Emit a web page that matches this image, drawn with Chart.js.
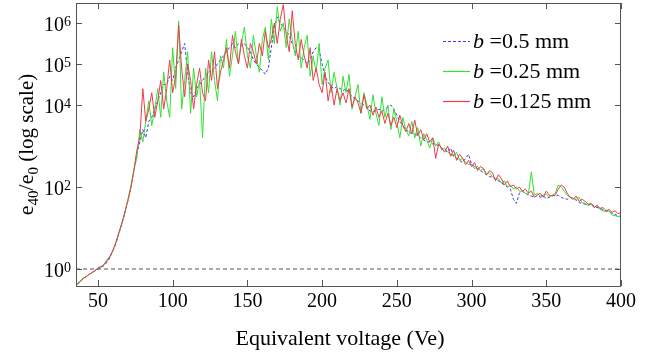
<!DOCTYPE html>
<html>
<head>
<meta charset="utf-8">
<script src="https://cdn.jsdelivr.net/npm/chart.js@4/dist/chart.umd.min.js"></script>
<style>
  html, body { margin: 0; padding: 0; background: #fff; }
  #wrap { width: 660px; height: 353px; }
</style>
</head>
<body>
<div id="wrap"><canvas id="chart" width="660" height="353"></canvas></div>
<script>
const voltages = [
  36, 38, 40, 42, 44, 46, 48, 50, 52, 54,
  56, 58, 60, 62, 64, 66, 68, 70, 72, 74,
  76, 78, 80, 82, 84, 86, 88, 90, 92, 94,
  96, 98, 100, 102, 104, 106, 108, 110, 112, 114,
  116, 118, 120, 122, 124, 126, 128, 130, 132, 134,
  136, 138, 140, 142, 144, 146, 148, 150, 152, 154,
  156, 158, 160, 162, 164, 166, 168, 170, 172, 174,
  176, 178, 180, 182, 184, 186, 188, 190, 192, 194,
  196, 198, 200, 202, 204, 206, 208, 210, 212, 214,
  216, 218, 220, 222, 224, 226, 228, 230, 232, 234,
  236, 238, 240, 242, 244, 246, 248, 250, 252, 254,
  256, 258, 260, 262, 264, 266, 268, 270, 272, 274,
  276, 278, 280, 282, 284, 286, 288, 290, 292, 294,
  296, 298, 300, 302, 304, 306, 308, 310, 312, 314,
  316, 318, 320, 322, 324, 326, 328, 330, 332, 334,
  336, 338, 340, 342, 344, 346, 348, 350, 352, 354,
  356, 358, 360, 362, 364, 366, 368, 370, 372, 374,
  376, 378, 380, 382, 384, 386, 388, 390, 392, 394,
  396, 398, 400,
];

// log10(e40/e0), one row = 10 voltages
const logB050 = [
  -0.37, -0.30, -0.24, -0.19, -0.13, -0.09, -0.04, 0.0, 0.03, 0.08,
  0.16, 0.28, 0.44, 0.62, 0.86, 1.1, 1.36, 1.66, 2.0, 2.4,
  2.8, 3.1, 3.4, 3.2, 3.6, 3.7, 3.9, 4.1, 4.3, 4.5,
  4.5, 4.7, 4.6, 4.9, 5.1, 5.3, 5.5, 4.8, 4.3, 4.2,
  4.4, 4.5, 4.6, 4.7, 4.8, 4.85, 4.9, 5.0, 5.1, 5.2,
  5.3, 5.4, 5.5, 5.4, 5.5, 5.45, 5.5, 5.4, 5.3, 5.1,
  5.0, 4.9, 4.85, 4.75, 4.9, 5.4, 5.9, 6.15, 6.0, 5.9,
  5.8, 5.7, 5.5, 5.3, 5.2, 5.15, 5.1, 5.0, 5.1, 5.3,
  5.4, 5.35, 5.0, 4.7, 4.55, 4.45, 4.4, 4.45, 4.4, 4.35,
  4.4, 4.3, 4.2, 4.15, 4.1, 4.05, 4.0, 3.95, 3.85, 3.85,
  3.85, 3.9, 3.85, 3.9, 3.95, 4.0, 3.9, 3.75, 3.6, 3.5,
  3.4, 3.35, 3.3, 3.3, 3.25, 3.2, 3.15, 3.1, 3.1, 3.05,
  3.05, 3.0, 2.95, 2.9, 2.85, 2.95, 2.75, 2.7, 2.65, 2.6,
  2.7, 2.8, 2.55, 2.5, 2.45, 2.4, 2.35, 2.3, 2.25, 2.25,
  2.2, 2.15, 2.1, 2.05, 2.0, 1.95, 1.7, 1.6, 1.85, 1.9,
  1.85, 1.8, 1.78, 1.75, 1.8, 1.75, 1.78, 1.72, 1.75, 1.8,
  1.78, 1.8, 1.75, 1.72, 1.7, 1.75, 1.72, 1.68, 1.62, 1.6,
  1.58, 1.55, 1.6, 1.52, 1.5, 1.48, 1.45, 1.42, 1.4, 1.36,
  1.33, 1.3, 1.28,
];

const logB025 = [
  -0.36, -0.30, -0.22, -0.20, -0.12, -0.10, -0.03, 0.02, 0.04, 0.12,
  0.22, 0.32, 0.44, 0.66, 0.86, 1.14, 1.36, 1.70, 2.02, 2.42,
  2.7, 3.4, 3.1, 3.6, 4.1, 3.5, 3.9, 4.4, 3.7, 4.8,
  4.1, 3.7, 5.4, 4.4, 6.05, 3.9, 4.6, 5.3, 3.8, 4.9,
  4.2, 4.6, 3.2, 4.9, 4.3, 5.3, 4.6, 4.1, 5.2, 4.9,
  5.6, 4.7, 5.2, 5.8, 5.0, 5.5, 5.9, 5.2, 4.9, 5.7,
  5.2, 4.8, 5.6, 5.9, 5.1, 6.1, 5.5, 6.4, 5.8, 6.0,
  5.4, 6.1, 5.6, 5.2, 5.8, 4.9, 5.4, 5.7, 4.7, 5.2,
  4.8, 5.5, 4.5, 4.9, 5.1, 4.3, 4.8, 4.4, 4.0, 4.7,
  4.3, 4.75, 3.9, 4.2, 4.5, 3.8, 4.3, 4.0, 3.65, 4.25,
  3.8, 3.5, 4.2, 3.7, 4.0, 3.4, 3.9, 3.6, 3.2, 3.7,
  3.4, 3.25, 3.6, 3.2, 3.45, 3.0, 3.3, 3.15, 2.95, 3.2,
  3.0, 3.1, 2.9, 2.95, 2.85, 2.8, 2.75, 2.85, 2.65, 2.7,
  2.6, 2.55, 2.55, 2.45, 2.5, 2.4, 2.45, 2.3, 2.35, 2.25,
  2.2, 2.2, 2.1, 2.15, 2.0, 2.05, 1.95, 2.0, 1.9, 1.9,
  1.85, 1.82, 2.37, 1.8, 1.85, 1.78, 1.8, 1.82, 1.76, 1.8,
  1.85, 2.05, 2.0, 1.9, 1.8, 1.75, 1.72, 1.7, 1.75, 1.62,
  1.6, 1.55, 1.58, 1.5, 1.55, 1.45, 1.42, 1.4, 1.42, 1.32,
  1.3, 1.28, 1.27,
];

const logB0125 = [
  -0.38, -0.32, -0.24, -0.18, -0.14, -0.08, -0.05, 0.03, 0.06, 0.10,
  0.20, 0.30, 0.46, 0.64, 0.90, 1.10, 1.40, 1.66, 1.98, 2.38,
  2.9, 3.2, 4.4, 3.6, 3.9, 4.3, 3.7, 4.1, 4.6, 3.9,
  4.4, 5.1, 4.3, 4.7, 5.95, 4.9, 4.2, 5.0, 4.6, 3.9,
  4.5, 4.9, 4.3, 4.1, 5.1, 4.6, 5.3, 4.4, 4.8, 5.1,
  5.4, 4.9, 5.7, 5.3, 5.0, 5.6, 5.2, 4.9, 5.5, 5.3,
  5.0, 5.5, 5.2, 5.8, 5.4, 5.6, 6.0, 5.5, 6.1, 6.45,
  5.7, 5.3, 6.3, 5.5, 5.1, 5.6, 5.2, 4.9, 5.4, 4.6,
  4.9, 4.5, 4.3, 4.8, 4.1, 4.5, 4.0, 4.4, 4.1, 4.3,
  4.05, 4.4, 3.95, 4.2, 4.05, 3.8, 4.25, 3.9, 4.0, 3.75,
  3.95, 3.7, 3.85, 3.55, 3.8, 3.5, 3.7, 3.45, 3.75, 3.5,
  3.35, 3.55, 3.3, 3.63, 3.25, 3.4, 3.15, 3.3, 3.1, 3.2,
  2.7, 3.05, 2.95, 2.85, 3.0, 2.75, 2.9, 2.65, 2.8, 2.7,
  2.55, 2.65, 2.5, 2.6, 2.4, 2.5, 2.45, 2.3, 2.4, 2.35,
  2.15, 2.3, 2.2, 2.05, 2.15, 2.0, 2.05, 1.95, 2.0, 1.9,
  1.95, 1.85, 1.9, 1.75, 1.8, 1.85, 1.75, 1.9, 1.8, 1.78,
  1.8, 1.95, 2.05, 2.0, 1.85, 1.75, 1.7, 1.78, 1.65, 1.7,
  1.65, 1.58, 1.6, 1.5, 1.55, 1.48, 1.5, 1.42, 1.45, 1.38,
  1.42, 1.35, 1.38,
];

const xTicks = [50, 100, 150, 200, 250, 300, 350, 400];
const yTickExps = [0, 2, 4, 5, 6];
const legendLabels = ["=0.5 mm", "=0.25 mm", "=0.125 mm"];
const seriesColors = ["rgb(60,60,235)", "rgb(50,225,50)", "rgb(238,60,75)"];

const SERIF = '"Liberation Serif", "Times New Roman", serif';
const FRAME = "#555";

function toPoints(logs) {
  return voltages.map((v, i) => ({ x: v, y: Math.pow(10, logs[i]) }));
}

// frame, inward ticks, labels, titles and legend
const decorPlugin = {
  id: "decor",
  afterDraw(chart) {
    const { ctx, chartArea: a, scales } = chart;
    const xs = scales.x;
    const ys = scales.y;
    ctx.save();

    ctx.strokeStyle = FRAME;
    ctx.lineWidth = 1;
    ctx.strokeRect(a.left + 0.5, a.top + 0.5, a.right - a.left - 1, a.bottom - a.top);

    ctx.beginPath();
    xTicks.forEach((t) => {
      const px = Math.round(xs.getPixelForValue(t)) + 0.5;
      ctx.moveTo(px, a.bottom);
      ctx.lineTo(px, a.bottom - 6);
      ctx.moveTo(px, a.top);
      ctx.lineTo(px, a.top + 6);
    });
    yTickExps.forEach((e) => {
      const py = Math.round(ys.getPixelForValue(Math.pow(10, e))) + 0.5;
      ctx.moveTo(a.left, py);
      ctx.lineTo(a.left + 6, py);
      ctx.moveTo(a.right, py);
      ctx.lineTo(a.right - 6, py);
    });
    ctx.stroke();

    ctx.fillStyle = "#000";
    ctx.textBaseline = "alphabetic";

    // x tick labels
    ctx.font = `20px ${SERIF}`;
    ctx.textAlign = "center";
    xTicks.forEach((t) => {
      ctx.fillText(String(t), xs.getPixelForValue(t), 307);
    });

    // y tick labels 10^n
    yTickExps.forEach((e) => {
      const py = ys.getPixelForValue(Math.pow(10, e));
      ctx.font = `14px ${SERIF}`;
      ctx.textAlign = "right";
      const expW = ctx.measureText(String(e)).width;
      ctx.fillText(String(e), 71, py + 3);
      ctx.font = `20px ${SERIF}`;
      ctx.fillText("10", 71 - expW, py + 8);
    });

    // x title
    ctx.font = `22px ${SERIF}`;
    ctx.textAlign = "center";
    ctx.fillText("Equivalent voltage (Ve)", 340, 345);

    // y title with subscripts
    const parts = [
      ["e", 22, 0],
      ["40", 15, 5],
      ["/e", 22, 0],
      ["0", 15, 5],
      [" (log scale)", 21, 0],
    ];
    let total = 0;
    parts.forEach((p) => {
      ctx.font = `${p[1]}px ${SERIF}`;
      total += ctx.measureText(p[0]).width;
    });
    ctx.translate(33, (a.top + a.bottom) / 2);
    ctx.rotate(-Math.PI / 2);
    ctx.textAlign = "left";
    let cx = -total / 2;
    parts.forEach((p) => {
      ctx.font = `${p[1]}px ${SERIF}`;
      ctx.fillText(p[0], cx, p[2]);
      cx += ctx.measureText(p[0]).width;
    });
    ctx.setTransform(1, 0, 0, 1, 0, 0);

    // legend
    legendLabels.forEach((label, i) => {
      const ly = 41 + 30 * i;
      ctx.strokeStyle = seriesColors[i];
      ctx.lineWidth = 1.2;
      ctx.setLineDash(i === 0 ? [3, 2] : []);
      ctx.beginPath();
      ctx.moveTo(443, ly + 0.5);
      ctx.lineTo(470, ly + 0.5);
      ctx.stroke();
      ctx.setLineDash([]);
      ctx.textAlign = "left";
      ctx.font = `italic 22px ${SERIF}`;
      ctx.fillText("b", 473, ly + 7);
      const bw = ctx.measureText("b ").width;
      ctx.font = `22px ${SERIF}`;
      ctx.fillText(label, 473 + bw, ly + 7);
    });

    ctx.restore();
  },
};

const ctx = document.getElementById("chart").getContext("2d");
const chart = new Chart(ctx, {
  type: "line",
  data: {
    datasets: [
      {
        label: "b =0.125 mm",
        data: toPoints(logB0125),
        borderColor: seriesColors[2],
        borderWidth: 1,
      },
      {
        label: "b =0.25 mm",
        data: toPoints(logB025),
        borderColor: seriesColors[1],
        borderWidth: 1,
      },
      {
        label: "b =0.5 mm",
        data: toPoints(logB050),
        borderColor: seriesColors[0],
        borderDash: [3, 2],
        borderWidth: 1,
      },
      {
        label: "unity",
        data: [
          { x: 35.3, y: 1 },
          { x: 400, y: 1 },
        ],
        borderColor: FRAME,
        borderDash: [4, 3],
        borderWidth: 1,
      },
    ],
  },
  options: {
    responsive: false,
    animation: false,
    devicePixelRatio: 1,
    layout: { padding: { left: 76, right: 39, top: 3, bottom: 67 } },
    elements: { point: { radius: 0 }, line: { tension: 0 } },
    plugins: { legend: { display: false }, tooltip: { enabled: false } },
    scales: {
      x: { type: "linear", display: false, min: 35.3, max: 400 },
      y: { type: "logarithmic", display: false, min: 0.385, max: 3.08e6 },
    },
  },
  plugins: [decorPlugin],
});
</script>
</body>
</html>
